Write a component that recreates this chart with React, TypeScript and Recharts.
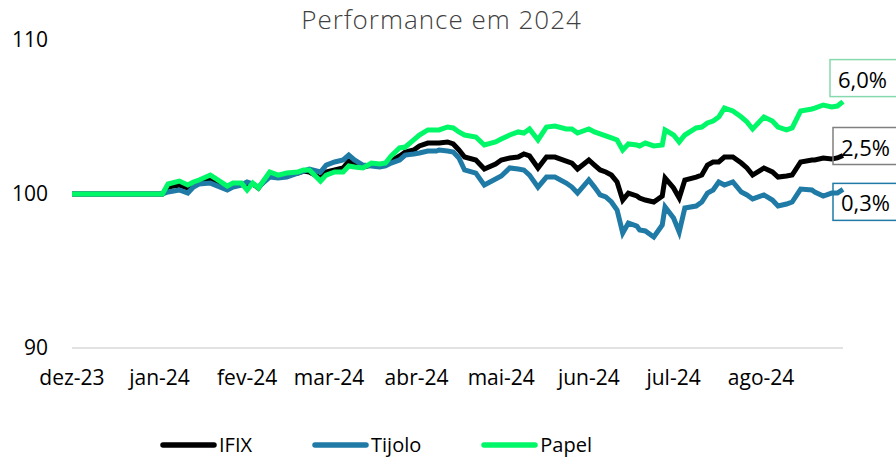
import { LineChart, Line, XAxis, YAxis } from "recharts";

// Performance em 2024 — IFIX x Tijolo x Papel (base 100)

const days = [
  0, 32, 34, 38, 41, 43, 45, 49, 55, 57,
  60, 62, 64, 66, 70, 73, 76, 80, 82, 84,
  88, 90, 93, 96, 98, 100, 103, 106, 109, 111,
  113, 116, 118, 121, 123, 126, 129, 130, 133, 135,
  137, 139, 143, 146, 150, 152, 155, 158, 160, 162,
  165, 168, 171, 175, 177, 179, 183, 185, 187, 189,
  191, 193, 195, 197, 200, 201, 203, 206, 209, 210,
  213, 215, 217, 221, 223, 225, 227, 229, 231, 234,
  237, 239, 241, 245, 248, 250, 253, 255, 258, 262,
  263, 266, 269, 271, 273,
];

const ifix = [
  100, 100, 100.45, 100.58, 100.39, 100.58, 100.78, 100.97, 100.39, 100.58,
  100.65, 100.52, 100.65, 100.39, 101.3, 101.1, 101.23, 101.36, 101.49, 101.43,
  101.04, 101.43, 101.56, 101.69, 102.14, 101.95, 101.75, 101.88, 101.82, 101.88,
  102.14, 102.47, 102.73, 102.86, 103.12, 103.31, 103.31, 103.31, 103.38, 103.25,
  102.86, 102.4, 102.21, 101.62, 101.95, 102.21, 102.34, 102.4, 102.6, 102.47,
  101.69, 102.4, 102.4, 102.14, 102.01, 101.62, 102.21, 101.88, 101.56, 101.43,
  101.23, 100.78, 99.61, 100.06, 99.87, 99.74, 99.61, 99.48, 99.87, 101.04,
  100.39, 99.74, 100.91, 101.1, 101.23, 101.88, 102.08, 102.08, 102.4, 102.4,
  102.01, 101.69, 101.23, 101.69, 101.43, 101.1, 101.17, 101.23, 102.08, 102.21,
  102.21, 102.34, 102.27, 102.34, 102.5,
];

const tijolo = [
  100, 100, 100.13, 100.26, 100.06, 100.45, 100.65, 100.71, 100.26, 100.45,
  100.58, 100.78, 100.65, 100.45, 101.1, 101.04, 101.1, 101.36, 101.49, 101.62,
  101.43, 101.88, 102.08, 102.21, 102.53, 102.21, 101.88, 101.82, 101.75, 101.82,
  102.01, 102.21, 102.53, 102.6, 102.66, 102.79, 102.79, 102.86, 102.79, 102.73,
  102.34, 101.56, 101.36, 100.58, 100.97, 101.17, 101.69, 101.62, 101.56, 101.23,
  100.45, 101.1, 101.1, 100.71, 100.45, 100.06, 100.91, 100.45, 99.94, 99.81,
  99.48, 98.96, 97.47, 98.12, 97.92, 97.66, 97.6, 97.21, 97.99, 99.16,
  98.44, 97.53, 99.09, 99.22, 99.48, 100.06, 100.26, 100.78, 100.58, 100.78,
  100.13, 99.94, 99.68, 99.94, 99.61, 99.22, 99.35, 99.48, 100.32, 100.26,
  100.13, 99.87, 100.06, 100.06, 100.3,
];

const papel = [
  100, 100, 100.65, 100.84, 100.58, 100.78, 100.91, 101.23, 100.52, 100.71,
  100.71, 100.26, 100.71, 100.39, 101.43, 101.23, 101.36, 101.43, 101.56, 101.56,
  100.84, 101.23, 101.43, 101.43, 101.82, 101.75, 101.69, 102.01, 101.95, 102.01,
  102.47, 102.99, 103.05, 103.51, 103.83, 104.16, 104.16, 104.16, 104.35, 104.29,
  104.03, 103.83, 103.7, 103.18, 103.38, 103.57, 103.83, 104.03, 103.96, 104.22,
  103.51, 104.35, 104.41, 104.22, 104.22, 103.96, 104.22, 104.03, 103.9, 103.77,
  103.64, 103.51, 102.86, 103.25, 103.18, 103.12, 103.31, 103.12, 103.18, 104.16,
  103.83, 103.38, 103.83, 104.29, 104.35, 104.61, 104.74, 105.0, 105.58, 105.39,
  105.0, 104.68, 104.22, 105.0, 104.74, 104.35, 104.16, 104.29, 105.39, 105.52,
  105.58, 105.78, 105.65, 105.71, 106.0,
];

const monthTicks = [0, 31, 62, 91, 122, 152, 183, 213, 244];
const monthLabels = ["dez-23", "jan-24", "fev-24", "mar-24", "abr-24", "mai-24", "jun-24", "jul-24", "ago-24"];
const yTicks = [90, 100, 110];

const endLabels = { ifix: "2,5%", tijolo: "0,3%", papel: "6,0%" };

const COLORS = { ifix: "#000000", tijolo: "#1f7aa6", papel: "#00f868" };
const FONT = "'Open Sans', 'Noto Sans', sans-serif";

const data = days.map((d, i) => ({ day: d, ifix: ifix[i], tijolo: tijolo[i], papel: papel[i] }));
const last = data.length - 1;

function endLabel(text: string, border: string, dx: number, dy: number) {
  return (props: any) => {
    if (props.index !== last) return null;
    const { x, y } = props;
    return (
      <g>
        <rect x={x + dx} y={y + dy} width={80} height={37} fill="none" stroke={border} strokeWidth={1.5} />
        <text x={x + dx + 8} y={y + dy + 19} dominantBaseline="central" fontSize={22} fill="#000" fontFamily={FONT}>
          {text}
        </text>
      </g>
    );
  };
}

function LegendRow() {
  const items = [
    { name: "IFIX", color: COLORS.ifix },
    { name: "Tijolo", color: COLORS.tijolo },
    { name: "Papel", color: COLORS.papel },
  ];
  return (
    <div
      style={{
        position: "absolute",
        left: 160,
        top: 434,
        height: 22,
        display: "flex",
        alignItems: "center",
        fontFamily: FONT,
        fontSize: 20,
        lineHeight: "22px",
        color: "#000",
      }}
    >
      {items.map((it, i) => (
        <div key={it.name} style={{ display: "flex", alignItems: "center", marginLeft: i === 0 ? 0 : 60 }}>
          <svg width={57} height={10}>
            <line x1={3} y1={5} x2={54} y2={5} stroke={it.color} strokeWidth={5.5} strokeLinecap="round" />
          </svg>
          <span style={{ marginLeft: 2 }}>{it.name}</span>
        </div>
      ))}
    </div>
  );
}

export default function App() {
  return (
    <div style={{ position: "absolute", left: 0, top: 0, width: 896, height: 459, background: "#fff", fontFamily: FONT }}>
      <div
        style={{
          position: "absolute",
          left: 0,
          width: 883,
          top: 1,
          textAlign: "center",
          fontSize: 26,
          fontWeight: 300,
          letterSpacing: 1,
          color: "#404040",
        }}
      >
        Performance em 2024
      </div>
      <LineChart width={896} height={459} data={data} margin={{ top: 40, right: 53, bottom: 71, left: 0 }}>
        <XAxis
          dataKey="day"
          type="number"
          domain={[0, 273]}
          ticks={monthTicks}
          tickFormatter={(v) => monthLabels[monthTicks.indexOf(v)]}
          tick={{ fontSize: 21, fill: "#000", fontFamily: FONT }}
          axisLine={{ stroke: "#d9d9d9", strokeWidth: 1.5 }}
          tickLine={false}
          tickMargin={16}
          interval={0}
          height={40}
        />
        <YAxis
          domain={[90, 110]}
          ticks={yTicks}
          tick={{ fontSize: 21, fill: "#000", fontFamily: FONT }}
          axisLine={false}
          tickLine={false}
          tickMargin={18}
          width={72}
        />
        <Line
          dataKey="ifix"
          stroke={COLORS.ifix}
          strokeWidth={5}
          dot={false}
          isAnimationActive={false}
          label={endLabel(endLabels.ifix, "#808080", -10, -28)}
        />
        <Line
          dataKey="tijolo"
          stroke={COLORS.tijolo}
          strokeWidth={5}
          dot={false}
          isAnimationActive={false}
          label={endLabel(endLabels.tijolo, COLORS.tijolo, -10, -6)}
        />
        <Line
          dataKey="papel"
          stroke={COLORS.papel}
          strokeWidth={5}
          dot={false}
          isAnimationActive={false}
          label={endLabel(endLabels.papel, "#86d9ad", -13, -42)}
        />
      </LineChart>
      <LegendRow />
    </div>
  );
}
